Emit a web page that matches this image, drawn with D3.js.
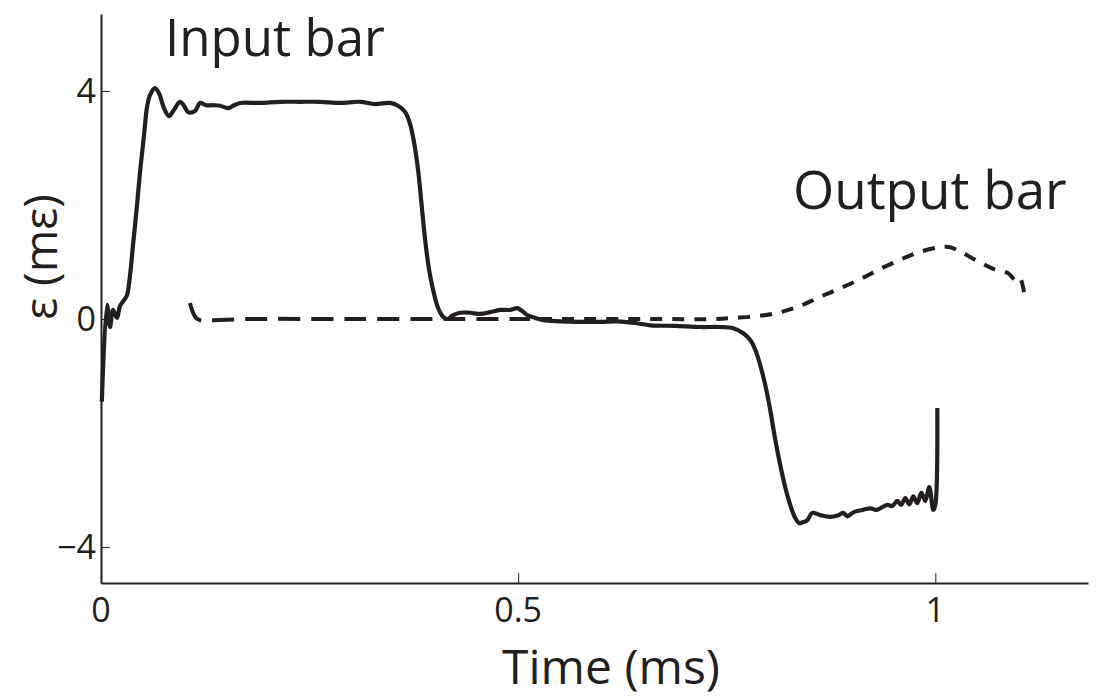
<!DOCTYPE html>
<html>
<head>
<meta charset="utf-8">
<script src="https://cdn.jsdelivr.net/npm/d3@7/dist/d3.min.js"></script>
<style>
  html, body { margin: 0; padding: 0; background: #fff; }
  svg { display: block; }
  text { font-family: "Open Sans", "Noto Sans", sans-serif; fill: #231f20; }
</style>
</head>
<body>
<svg id="chart" width="1103" height="698"></svg>
<script>
// Strain histories (time in ms, strain in mε)
const inputTime = [0.001, 0.0072, 0.0108, 0.0144, 0.0192, 0.0228, 0.0276, 0.0312, 0.0348, 0.0384,
  0.0432, 0.0468, 0.0516, 0.0552, 0.0588, 0.0647, 0.0695, 0.0755, 0.0815, 0.0875,
  0.0947, 0.0995, 0.1043, 0.1127, 0.1187, 0.1259, 0.1343, 0.1427, 0.1523, 0.1595,
  0.1667, 0.1906, 0.2146, 0.2386, 0.2626, 0.2866, 0.3106, 0.3285, 0.3465, 0.3561,
  0.3645, 0.3705, 0.3753, 0.3801, 0.3837, 0.3885, 0.3933, 0.3981, 0.4041, 0.4101,
  0.4149, 0.4221, 0.4305, 0.4424, 0.4544, 0.4664, 0.4784, 0.4904, 0.4988, 0.5048,
  0.5108, 0.5204, 0.5300, 0.5504, 0.5707, 0.5983, 0.6187, 0.6403, 0.6583, 0.6882,
  0.7182, 0.7422, 0.7578, 0.7698, 0.7782, 0.7842, 0.7902, 0.7962, 0.8022, 0.8082,
  0.8141, 0.8201, 0.8261, 0.8321, 0.8369, 0.8417, 0.8465, 0.8525, 0.8621, 0.8741,
  0.8837, 0.8897, 0.8945, 0.9017, 0.9125, 0.9221, 0.9293, 0.9365, 0.9424, 0.9484,
  0.9544, 0.9592, 0.9640, 0.9688, 0.9736, 0.9784, 0.9832, 0.9880, 0.9928, 0.9976,
  1.0000, 1.0024];
const inputStrain = [-1.45, 0.25, -0.14, 0.16, 0.02, 0.23, 0.33, 0.42, 0.77, 1.30,
  2.00, 2.58, 3.23, 3.72, 3.93, 4.05, 3.96, 3.70, 3.56, 3.67,
  3.81, 3.74, 3.63, 3.65, 3.79, 3.75, 3.75, 3.74, 3.70, 3.75,
  3.79, 3.79, 3.81, 3.81, 3.81, 3.79, 3.81, 3.77, 3.79, 3.74,
  3.63, 3.42, 3.09, 2.61, 2.09, 1.39, 0.86, 0.51, 0.19, 0.04,
  0.00, 0.07, 0.11, 0.11, 0.09, 0.12, 0.16, 0.16, 0.19, 0.14,
  0.07, 0.02, -0.02, -0.04, -0.05, -0.05, -0.04, -0.07, -0.11, -0.12,
  -0.14, -0.14, -0.16, -0.25, -0.37, -0.54, -0.81, -1.16, -1.60, -2.12,
  -2.56, -2.95, -3.26, -3.49, -3.58, -3.56, -3.53, -3.40, -3.44, -3.47,
  -3.44, -3.40, -3.46, -3.39, -3.35, -3.32, -3.35, -3.30, -3.26, -3.28,
  -3.19, -3.26, -3.14, -3.25, -3.11, -3.23, -3.05, -3.19, -2.95, -3.35,
  -3.26, -1.56];

const outputTime = [0.1067, 0.1103, 0.1139, 0.1187, 0.1307, 0.1787, 0.2986, 0.4185, 0.5000,
  0.5384, 0.6583, 0.7338, 0.7578, 0.7866, 0.8141, 0.8381, 0.8621, 0.8861, 0.9101,
  0.9341, 0.9580, 0.9820, 1.0060, 1.0180, 1.0300, 1.0504, 1.0695, 1.0863, 1.0983,
  1.1019, 1.1079];
const outputStrain = [0.28, 0.11, 0.02, -0.02, -0.02, 0.00, 0.00, 0.00, 0.00,
  0.00, 0.00, 0.00, 0.02, 0.05, 0.12, 0.23, 0.39, 0.54, 0.70,
  0.88, 1.04, 1.18, 1.26, 1.26, 1.18, 1.02, 0.88, 0.81, 0.65,
  0.70, 0.33];

const xTicks = [0, 0.5, 1];
const xTickLabels = ["0", "0.5", "1"];
const yTicks = [-4, 0, 4];
const yTickLabels = ["\u22124", "0", "4"];

const ink = "#231f20";
const svg = d3.select("#chart");

const x = d3.scaleLinear().domain([0, 1.183]).range([101, 1088]);
const y = d3.scaleLinear().domain([-4.63, 5.35]).range([583, 14]);

// Axes: ticks point inward, labels placed separately
const xAxis = d3.axisBottom(x).tickValues(xTicks).tickSize(-10).tickFormat("").tickSizeOuter(0);
const yAxis = d3.axisLeft(y).tickValues(yTicks).tickSize(-9).tickFormat("").tickSizeOuter(0);

const gx = svg.append("g").attr("transform", `translate(0,${y.range()[0]})`).call(xAxis);
const gy = svg.append("g").attr("transform", `translate(${x.range()[0]},0)`).call(yAxis);
[gx, gy].forEach(g => {
  g.select(".domain").attr("stroke", ink).attr("stroke-width", 2);
  g.selectAll(".tick line").attr("stroke", ink).attr("stroke-width", 1);
});

svg.append("g").selectAll("text").data(xTicks).join("text")
  .attr("x", d => x(d)).attr("y", 622)
  .attr("text-anchor", "middle").attr("font-size", 34)
  .text((d, i) => xTickLabels[i]);

svg.append("g").selectAll("text").data(yTicks).join("text")
  .attr("x", 96).attr("y", d => y(d) + 12)
  .attr("text-anchor", "end").attr("font-size", 34)
  .text((d, i) => yTickLabels[i]);

svg.append("text").attr("x", 611).attr("y", 684)
  .attr("text-anchor", "middle").attr("font-size", 48)
  .text("Time (ms)");

svg.append("text")
  .attr("transform", "translate(57,257) rotate(-90)")
  .attr("text-anchor", "middle").attr("font-size", 46)
  .text("\u03b5 (m\u03b5)");

// Curves
const line = d3.line().x(d => x(d[0])).y(d => y(d[1])).curve(d3.curveCatmullRom.alpha(0.5));

const inputPts = inputTime.map((t, i) => [t, inputStrain[i]]);
const outputPts = outputTime.map((t, i) => [t, outputStrain[i]]);

svg.append("path").datum(inputPts)
  .attr("d", line).attr("fill", "none")
  .attr("stroke", ink).attr("stroke-width", 4.2).attr("stroke-linejoin", "round");

// Output trace: longer dashes on the early plateau, shorter ones afterwards
const splitT = 0.5;
svg.append("path").datum(outputPts.filter(d => d[0] <= splitT))
  .attr("d", line).attr("fill", "none")
  .attr("stroke", ink).attr("stroke-width", 4).attr("stroke-dasharray", "22,11");
svg.append("path").datum(outputPts.filter(d => d[0] >= splitT))
  .attr("d", line).attr("fill", "none")
  .attr("stroke", ink).attr("stroke-width", 4).attr("stroke-dasharray", "12,10");

// Trace labels
svg.append("text").attr("x", 165).attr("y", 56).attr("font-size", 51).text("Input bar");
svg.append("text").attr("x", 793).attr("y", 209).attr("font-size", 53).text("Output bar");
</script>
</body>
</html>
